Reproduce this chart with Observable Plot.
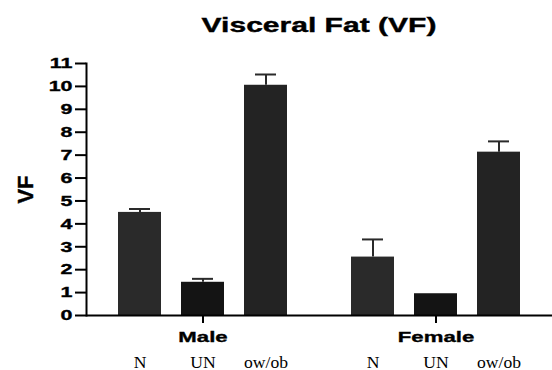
<!DOCTYPE html>
<html><head><meta charset="utf-8">
<script src="https://cdn.jsdelivr.net/npm/d3@7"></script>
<script src="https://cdn.jsdelivr.net/npm/@observablehq/plot@0.6"></script>
<style>
body{margin:0;background:#fff;}
#wrap{width:552px;height:370px;position:relative;overflow:hidden;background:#fff;}
#title{height:45px;position:relative;font:bold 21px "Liberation Sans",Arial,sans-serif;line-height:21px;white-space:nowrap;color:#000;}
#title span{position:absolute;left:319px;top:14px;transform:translateX(-50%) scaleX(1.43);-webkit-text-stroke:0.4px #000;}
#chart svg{display:block;}
</style></head><body>
<div id="wrap"><div id="title"><span>Visceral Fat (VF)</span></div><div id="chart"></div></div>
<script>
const groups = ["Male", "Female"];
const subgroups = ["N", "UN", "ow/ob"];
const maleMeans = [4.5, 1.45, 10.05];
const maleErrors = [0.15, 0.15, 0.47];
const femaleMeans = [2.55, 0.95, 7.13];
const femaleErrors = [0.77, 0, 0.47];
const yTicks = [0, 1, 2, 3, 4, 5, 6, 7, 8, 9, 10, 11];
const barColors = ["#2a2a2a", "#141414", "#232323"];

const meansByGroup = [maleMeans, femaleMeans];
const errorsByGroup = [maleErrors, femaleErrors];
const rows = [];
groups.forEach((g, gi) => subgroups.forEach((s, si) => {
  rows.push({group: g, sub: s, mean: meansByGroup[gi][si], err: errorsByGroup[gi][si]});
}));
const errRows = rows.filter(d => d.err > 0);

const chart = Plot.plot({
  width: 552, height: 325,
  marginTop: 18, marginBottom: 55, marginLeft: 85, marginRight: 0,
  style: {fontFamily: "'Liberation Sans', Arial, sans-serif", fontWeight: "bold", color: "black", background: "white", overflow: "visible"},
  fx: {domain: groups, paddingInner: 0, paddingOuter: 0},
  x: {domain: subgroups, paddingInner: 0.3125, paddingOuter: 0.48},
  y: {domain: [0, 11]},
  color: {domain: subgroups, range: barColors},
  marks: [
    Plot.barY(rows, {fx: "group", x: "sub", y: "mean", fill: "sub"}),
    Plot.ruleX(errRows, {fx: "group", x: "sub", y1: "mean", y2: d => d.mean + d.err, stroke: "#2a2a2a", strokeWidth: 2}),
    Plot.tickY(errRows, {fx: "group", x: "sub", y: d => d.mean + d.err, stroke: "#2a2a2a", strokeWidth: 2, insetLeft: 11, insetRight: 11}),
    Plot.ruleY([0], {strokeWidth: 2}),
    Plot.frame({anchor: "left", facetAnchor: "left", strokeWidth: 2}),
    Plot.axisY({ticks: yTicks, tickFormat: d => String(d), tickSize: 11, tickPadding: 3, fontSize: 15, strokeWidth: 2, label: null}),
    Plot.text(["VF"], {text: d => d, frameAnchor: "left", textAnchor: "middle", facetAnchor: "left", rotate: -90, dx: -61, fontSize: 22, fontWeight: "bold"}),
    Plot.axisFx({anchor: "bottom", tickSize: 8, tickPadding: 7, fontSize: 15.5, strokeWidth: 2, label: null}),
    Plot.axisX({anchor: "bottom", tickSize: 0, tickPadding: 41, fontSize: 16, fontFamily: "'Liberation Serif', 'Times New Roman', serif", fontWeight: "normal", label: null})
  ]
});
document.getElementById("chart").append(chart);
chart.querySelectorAll("text").forEach(t => {
  if (t.textContent === "VF") { t.setAttribute("stroke", "currentColor"); t.setAttribute("stroke-width", "0.4"); return; }
  const len = t.getComputedTextLength();
  let f = 1.43;
  if (t.closest('[aria-label="x-axis tick label"]')) f = 1.1;
  else { t.setAttribute("stroke", "currentColor"); t.setAttribute("stroke-width", "0.35"); }
  t.setAttribute("textLength", len * f);
  t.setAttribute("lengthAdjust", "spacingAndGlyphs");
});
</script>
</body></html>
